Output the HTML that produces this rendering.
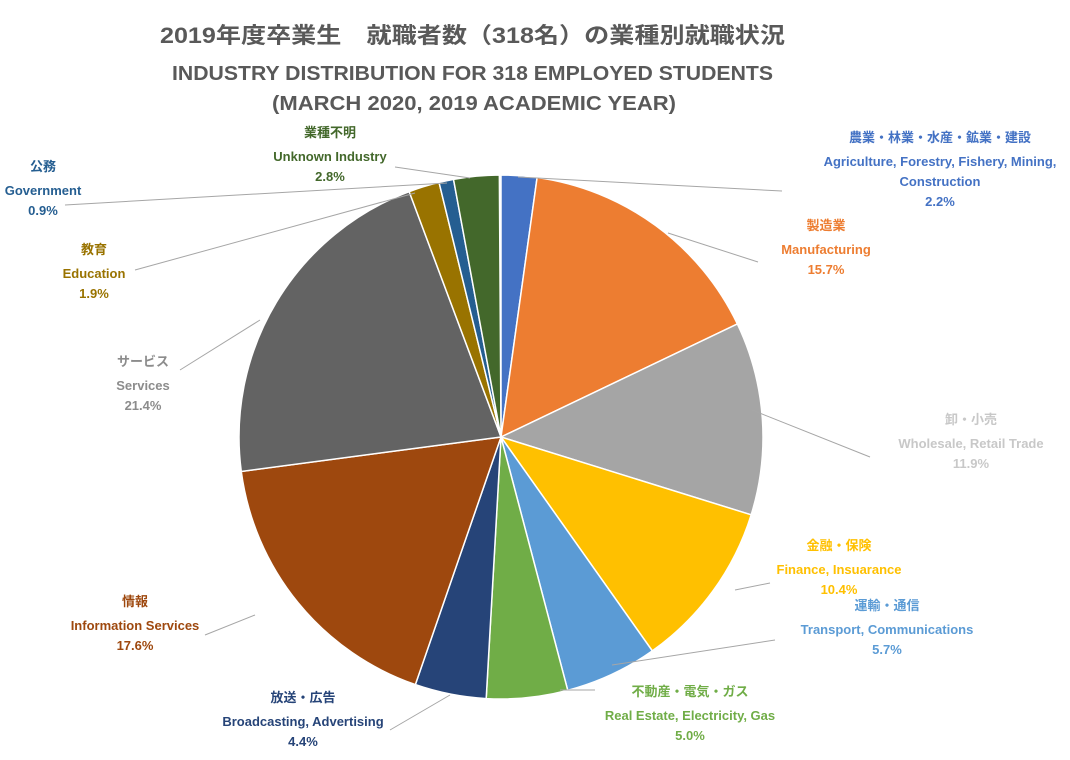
<!DOCTYPE html>
<html><head><meta charset="utf-8"><style>
body{margin:0;background:#fff;}
svg text{font-family:"Liberation Sans","Noto Sans CJK JP",sans-serif;font-weight:bold;}
</style></head><body>
<svg id="s" width="1070" height="755" xmlns="http://www.w3.org/2000/svg">
<text x="160" y="43" font-size="22" fill="#595959" textLength="625" lengthAdjust="spacingAndGlyphs">2019年度卒業生　就職者数（318名）の業種別就職状況</text>
<text x="172" y="80" font-size="20" fill="#595959" textLength="601" lengthAdjust="spacingAndGlyphs">INDUSTRY DISTRIBUTION FOR 318 EMPLOYED STUDENTS</text>
<text x="272" y="110" font-size="20" fill="#595959" textLength="404" lengthAdjust="spacingAndGlyphs">(MARCH 2020, 2019 ACADEMIC YEAR)</text>
<g id="pie"></g>
<g stroke="#a6a6a6" stroke-width="1" fill="none">
<polyline points="518,177 782,191"/>
<polyline points="668,233 758,262"/>
<polyline points="752,410 870,457"/>
<polyline points="735,590 770,583"/>
<polyline points="612,665 775,640"/>
<polyline points="560,690 595,690"/>
<polyline points="450,695 390,730"/>
<polyline points="255,615 205,635"/>
<polyline points="260,320 180,370"/>
<polyline points="415,193 135,270"/>
<polyline points="447,183 65,205"/>
<polyline points="395,167 470,178"/>
</g>
<g font-size="13" text-anchor="middle">
<text fill="#4472C4"><tspan x="940" y="142">農業・林業・水産・鉱業・建設</tspan><tspan x="940" y="166">Agriculture, Forestry, Fishery, Mining,</tspan><tspan x="940" y="186">Construction</tspan><tspan x="940" y="206">2.2%</tspan></text>
<text fill="#ED7D31"><tspan x="826" y="230">製造業</tspan><tspan x="826" y="254">Manufacturing</tspan><tspan x="826" y="274">15.7%</tspan></text>
<text fill="#C8C8C8"><tspan x="971" y="424">卸・小売</tspan><tspan x="971" y="448">Wholesale, Retail Trade</tspan><tspan x="971" y="468">11.9%</tspan></text>
<text fill="#FFC000"><tspan x="839" y="550">金融・保険</tspan><tspan x="839" y="574">Finance, Insuarance</tspan><tspan x="839" y="594">10.4%</tspan></text>
<text fill="#5B9BD5"><tspan x="887" y="610">運輸・通信</tspan><tspan x="887" y="634">Transport, Communications</tspan><tspan x="887" y="654">5.7%</tspan></text>
<text fill="#70AD47"><tspan x="690" y="696">不動産・電気・ガス</tspan><tspan x="690" y="720">Real Estate, Electricity, Gas</tspan><tspan x="690" y="740">5.0%</tspan></text>
<text fill="#264478"><tspan x="303" y="702">放送・広告</tspan><tspan x="303" y="726">Broadcasting, Advertising</tspan><tspan x="303" y="746">4.4%</tspan></text>
<text fill="#9E480E"><tspan x="135" y="606">情報</tspan><tspan x="135" y="630">Information Services</tspan><tspan x="135" y="650">17.6%</tspan></text>
<text fill="#8c8c8c"><tspan x="143" y="366">サービス</tspan><tspan x="143" y="390">Services</tspan><tspan x="143" y="410">21.4%</tspan></text>
<text fill="#997300"><tspan x="94" y="254">教育</tspan><tspan x="94" y="278">Education</tspan><tspan x="94" y="298">1.9%</tspan></text>
<text fill="#255E91"><tspan x="43" y="171">公務</tspan><tspan x="43" y="195">Government</tspan><tspan x="43" y="215">0.9%</tspan></text>
<text fill="#43682B"><tspan x="330" y="137">業種不明</tspan><tspan x="330" y="161">Unknown Industry</tspan><tspan x="330" y="181">2.8%</tspan></text>
</g>
</svg>
<script>
var d=[[2.2,"#4472C4"],[15.7,"#ED7D31"],[11.9,"#A5A5A5"],[10.4,"#FFC000"],[5.7,"#5B9BD5"],[5.0,"#70AD47"],[4.4,"#264478"],[17.6,"#9E480E"],[21.4,"#636363"],[1.9,"#997300"],[0.9,"#255E91"],[2.8,"#43682B"]];
var cx=501,cy=437,r=262,a=0,h="";
d.forEach(function(s){var a2=a+s[0]/100*2*Math.PI;
var x1=cx+r*Math.sin(a),y1=cy-r*Math.cos(a),x2=cx+r*Math.sin(a2),y2=cy-r*Math.cos(a2);
h+='<path d="M'+cx+','+cy+' L'+x1+','+y1+' A'+r+','+r+' 0 '+(a2-a>Math.PI?1:0)+' 1 '+x2+','+y2+' Z" fill="'+s[1]+'" stroke="#fff" stroke-width="1.5"/>';a=a2;});
document.getElementById("pie").innerHTML=h;
</script>
</body></html>
